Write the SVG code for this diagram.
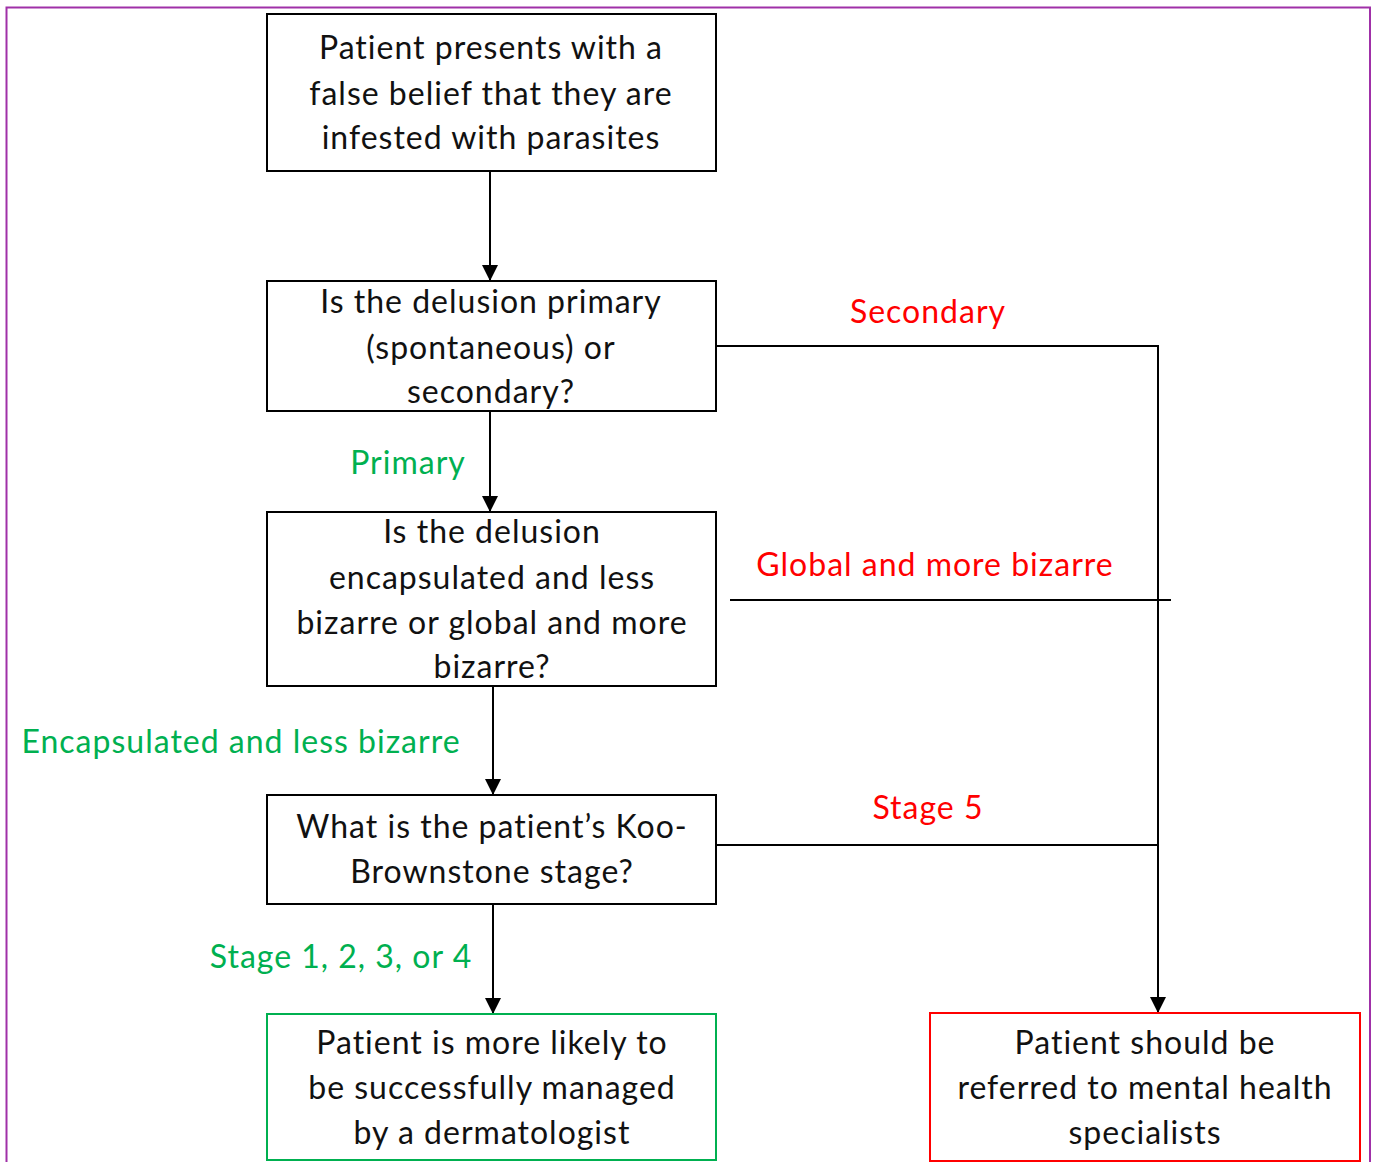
<svg xmlns="http://www.w3.org/2000/svg" width="1373" height="1162" viewBox="0 0 1373 1162">
<defs>
<style>
.box{fill:#fff;stroke:#000;stroke-width:2}
.g{stroke:#00B050}
.r{stroke:#FF0000}
text{font-family:Lato,"Open Sans",sans-serif;font-size:32px;text-anchor:middle;letter-spacing:1px}
.t{fill:#111}
.lg{fill:#00B050}
.lr{fill:#FF0000}
.c{stroke:#000;stroke-width:2;fill:none}
</style>
<marker id="ah" markerWidth="16" markerHeight="16" refX="15" refY="8" orient="auto" markerUnits="userSpaceOnUse"><path d="M0,0 L16,8 L0,16 z" fill="#000"/></marker>
</defs>
<rect width="1373" height="1162" fill="#fff"/>
<path d="M6.5,1162 V7.5 H1370 V1162" fill="none" stroke="#A030A8" stroke-width="2"/>
<g id="connectors">
<line class="c" x1="490" y1="171" x2="490" y2="280" marker-end="url(#ah)"/>
<line class="c" x1="490" y1="411" x2="490" y2="511" marker-end="url(#ah)"/>
<line class="c" x1="493" y1="686" x2="493" y2="794" marker-end="url(#ah)"/>
<line class="c" x1="493" y1="904" x2="493" y2="1013" marker-end="url(#ah)"/>
<path class="c" d="M716,346 H1158 V1012" marker-end="url(#ah)"/>
<line class="c" x1="730" y1="600" x2="1171" y2="600"/>
<line class="c" x1="716" y1="845" x2="1158" y2="845"/>
<text class="lr" x="928" y="323">Secondary</text>
<text class="lg" x="408" y="474">Primary</text>
<text class="lr" x="935" y="576">Global and more bizarre</text>
<text class="lg" x="241" y="753">Encapsulated and less bizarre</text>
<text class="lr" x="928" y="819">Stage 5</text>
<text class="lg" x="341" y="968">Stage 1, 2, 3, or 4</text>
</g>
<g id="n1"><rect class="box" x="267" y="14" width="449" height="157"/>
<text class="t" x="491" y="59">Patient presents with a</text>
<text class="t" x="491" y="105">false belief that they are</text>
<text class="t" x="491" y="149">infested with parasites</text></g>
<g id="n2"><rect class="box" x="267" y="281" width="449" height="130"/>
<text class="t" x="491" y="313">Is the delusion primary</text>
<text class="t" x="491" y="359">(spontaneous) or</text>
<text class="t" x="491" y="403">secondary?</text></g>
<g id="n3"><rect class="box" x="267" y="512" width="449" height="174"/>
<text class="t" x="492" y="543">Is the delusion</text>
<text class="t" x="492" y="589">encapsulated and less</text>
<text class="t" x="492" y="634">bizarre or global and more</text>
<text class="t" x="492" y="678">bizarre?</text></g>
<g id="n4"><rect class="box" x="267" y="795" width="449" height="109"/>
<text class="t" x="492" y="838">What is the patient’s Koo-</text>
<text class="t" x="492" y="883">Brownstone stage?</text></g>
<g id="n5"><rect class="box g" x="267" y="1014" width="449" height="146"/>
<text class="t" x="492" y="1054">Patient is more likely to</text>
<text class="t" x="492" y="1099">be successfully managed</text>
<text class="t" x="492" y="1144">by a dermatologist</text></g>
<g id="n6"><rect class="box r" x="930" y="1013" width="430" height="148"/>
<text class="t" x="1145" y="1054">Patient should be</text>
<text class="t" x="1145" y="1099">referred to mental health</text>
<text class="t" x="1145" y="1144">specialists</text></g>
</svg>
